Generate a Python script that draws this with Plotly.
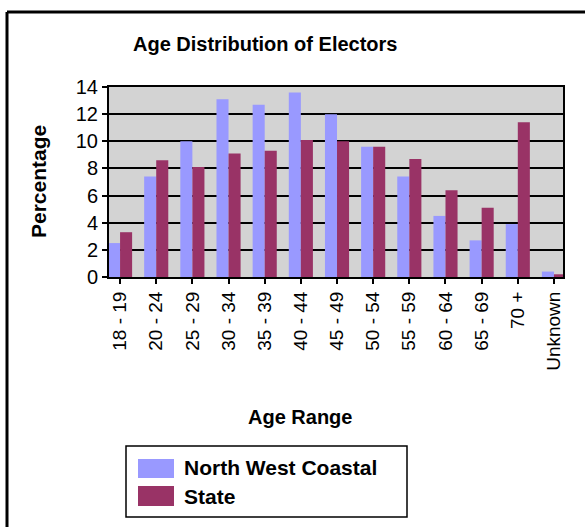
import plotly.graph_objects as go

categories = ["18 - 19", "20 - 24", "25 - 29", "30 - 34", "35 - 39", "40 - 44", "45 - 49",
              "50 - 54", "55 - 59", "60 - 64", "65 - 69", "70 +", "Unknown"]
north_west_coastal = [2.5, 7.4, 10.0, 13.1, 12.7, 13.6, 12.0, 9.6, 7.4, 4.5, 2.7, 3.9, 0.4]
state = [3.3, 8.6, 8.1, 9.1, 9.3, 10.1, 10.0, 9.6, 8.7, 6.4, 5.1, 11.4, 0.2]
y_ticks = [0, 2, 4, 6, 8, 10, 12, 14]
series_names = ["North West Coastal", "State"]
series_colors = ["#9999FF", "#993366"]

W, H = 585, 527
# plot area in pixels
PL, PR, PT, PB = 109, 563, 87, 277
L, T, R, B = PL, PT, W - PR, H - PB
pw, ph = PR - PL, PB - PT


def px(x):
    return (x - PL) / pw


def py(y):
    return (PB - y) / ph


FONT = "Liberation Sans, Arial, sans-serif"

fig = go.Figure()
for name, vals, col in zip(series_names, [north_west_coastal, state], series_colors):
    fig.add_trace(go.Bar(x=categories, y=vals, name=name,
                         marker=dict(color=col, line=dict(width=0))))

annotations = [
    dict(text="<b>Age Distribution of Electors</b>", x=px(265), y=py(44),
         font=dict(size=20)),
    dict(text="<b>Percentage</b>", x=px(38), y=py(182), textangle=-90,
         font=dict(size=21)),
    dict(text="<b>Age Range</b>", x=px(300), y=py(417),
         font=dict(size=20)),
]
for a in annotations:
    a.update(xref="paper", yref="paper", showarrow=False, xanchor="center", yanchor="middle")

shapes = [
    # outer chart frame: only the top and left edges are inside the picture
    dict(type="line", xref="paper", yref="paper",
         x0=px(7), y0=py(12), x1=px(600), y1=py(12),
         line=dict(color="black", width=3), layer="above"),
    dict(type="line", xref="paper", yref="paper",
         x0=px(7), y0=py(12), x1=px(7), y1=py(560),
         line=dict(color="black", width=3), layer="above"),
    # legend box
    dict(type="rect", xref="paper", yref="paper",
         x0=px(126), y0=py(446), x1=px(407), y1=py(517),
         line=dict(color="black", width=1.5), fillcolor="white", layer="above"),
]
legend_rows = [(459, 478, 468), (486, 506, 496)]
for (y0, y1, yc), name, col in zip(legend_rows, series_names, series_colors):
    shapes.append(dict(type="rect", xref="paper", yref="paper",
                       x0=px(138), y0=py(y0), x1=px(174), y1=py(y1),
                       line=dict(width=0), fillcolor=col, layer="above"))
    annotations.append(dict(text="<b>" + name + "</b>", x=px(182), y=py(yc),
                            xref="paper", yref="paper", showarrow=False,
                            xanchor="left", yanchor="middle", font=dict(size=21)))

fig.update_layout(
    width=W, height=H,
    margin=dict(l=L, r=R, t=T, b=B, pad=0),
    paper_bgcolor="white",
    plot_bgcolor="#D3D3D3",
    barmode="group",
    bargap=0.333,
    bargroupgap=0,
    font=dict(family=FONT, color="black", size=19),
    showlegend=False,
    xaxis=dict(
        type="category",
        range=[-0.306, 12.25],
        tickangle=-90,
        ticks="outside", ticklen=5, tickwidth=1.5, tickcolor="black",
        showline=True, linecolor="black", linewidth=2, mirror=True,
        showgrid=False,
        tickfont=dict(size=19),
    ),
    yaxis=dict(
        range=[0, 14],
        tickvals=y_ticks,
        ticks="outside", ticklen=5, tickwidth=1.5, tickcolor="black",
        showline=True, linecolor="black", linewidth=2, mirror=True,
        showgrid=True, gridcolor="black", gridwidth=1.5,
        zeroline=False,
        tickfont=dict(size=20),
    ),
    annotations=annotations,
    shapes=shapes,
)

fig.write_html(
    "out.html",
    config={"displayModeBar": False},
    post_script="document.body.style.margin='0';document.body.style.overflow='hidden';",
)
